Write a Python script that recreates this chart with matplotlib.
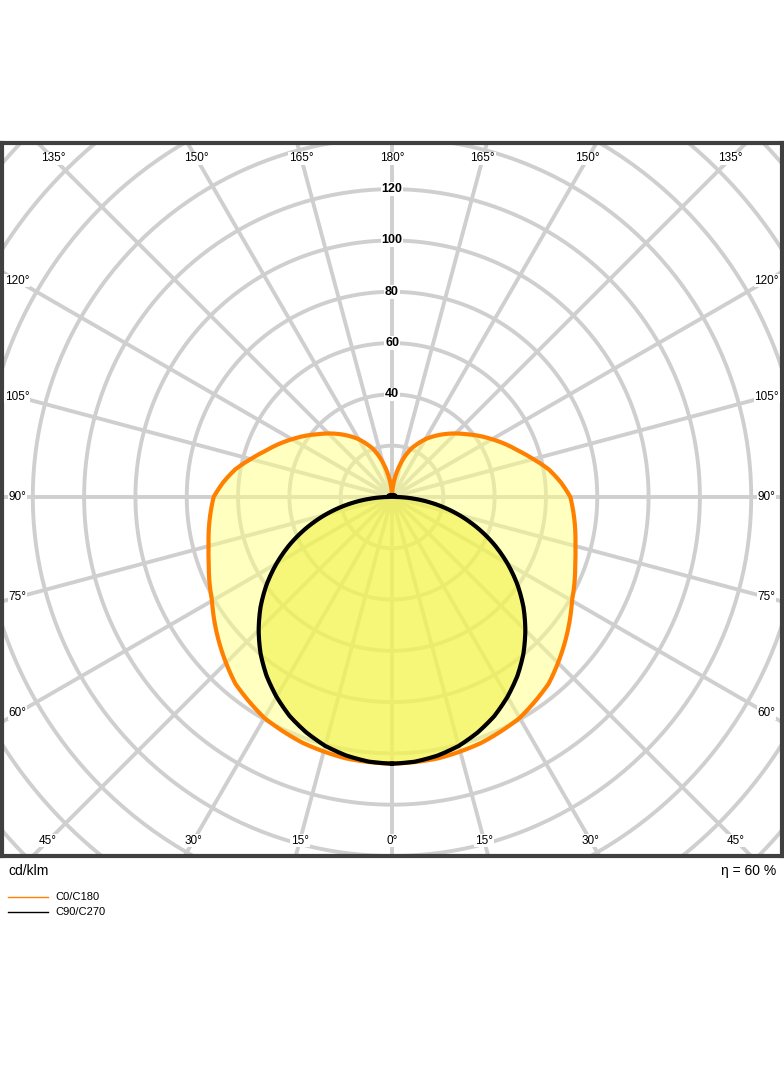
import numpy as np
import matplotlib.pyplot as plt

plt.rcParams['font.family'] = ['Liberation Sans', 'DejaVu Sans']

# luminous intensity, cd/klm, gamma angle from nadir (deg)
angles_c0 = [0, 10, 20, 30, 40, 50, 60, 70, 75, 80, 85, 90, 95, 100, 105, 110, 120, 125, 130, 135, 140, 145, 150, 155, 158, 162, 166, 170, 175, 180]
c0_c180 = [104, 103.5, 102, 99.5, 95, 88, 81, 76, 74, 72.5, 71, 69.5, 66, 62, 57, 52.5, 45, 41.5, 38, 35, 32, 29, 26, 22.5, 20.5, 17, 13, 9, 4, 0]
angles_c90 = [0, 5, 10, 15, 20, 25, 30, 35, 40, 45, 50, 55, 60, 65, 70, 75, 80, 85, 90, 100, 140, 180]
c90_c270 = [104, 103.6, 102.4, 100.5, 97.7, 94.3, 90, 85.2, 79.7, 73.5, 66.9, 59.7, 52, 44, 35.6, 27, 18.2, 9.3, 1, 1.5, 1, 0]
ring_values = [20, 40, 60, 80, 100, 120, 140, 160, 180, 200, 220]
ring_labels = [40, 60, 80, 100, 120]
angle_ticks = [0, 15, 30, 45, 60, 75, 90, 105, 120, 135, 150, 165, 180]

fig = plt.figure(figsize=(7.84, 10.66), dpi=100)
ax = fig.add_axes([2/784, (1066-856)/1066, 780/784, 713/1066])
xl, yb, yt = 152, -140, 138
ax.set_xlim(-xl, xl)
ax.set_ylim(yb, yt)
ax.set_xticks([]); ax.set_yticks([])
for s in ax.spines.values():
    s.set_linewidth(3); s.set_color('#404040')

grid = '#cfcfcf'
t = np.linspace(0, 2*np.pi, 400)
for r in ring_values:
    ax.plot(r*np.cos(t), r*np.sin(t), color=grid, lw=2.8, zorder=1)
for a in range(0, 360, 15):
    th = np.radians(a)
    ax.plot([0, 300*np.sin(th)], [0, -300*np.cos(th)], color=grid, lw=2.8, zorder=1)

def curve(angs, vals):
    g = np.arange(0, 180.5, 0.5)
    r = np.interp(g, angs, vals)
    th = np.radians(g)
    full_th = np.concatenate([th, -th[::-1]])
    full_r = np.concatenate([r, r[::-1]])
    return full_r*np.sin(full_th), -full_r*np.cos(full_th)

x0, y0 = curve(angles_c0, c0_c180)
x9, y9 = curve(angles_c90, c90_c270)
ax.fill(x0, y0, color='#ffff80', alpha=0.5, lw=0, zorder=2)
ax.fill(x9, y9, color='#f0f040', alpha=0.55, lw=0, zorder=3)
ax.plot(x0, y0, color='#ff8000', lw=3, zorder=4)
ax.plot(x9, y9, color='black', lw=3, zorder=5)

for v in ring_labels:
    ax.text(0, v, str(v), ha='center', va='center', fontsize=9, zorder=6,
            fontweight='bold', bbox=dict(fc='white', ec='none', pad=0.5))

# angle labels at box border
ins = 6.0
bx, byb, byt = xl - ins, yb + ins, yt - ins
for a in angle_ticks:
    th = np.radians(a)
    for sgn in ([1] if a in (0, 180) else [1, -1]):
        dx, dy = sgn*np.sin(th), -np.cos(th)
        ts = []
        if abs(dx) > 1e-9:
            ts.append(bx/abs(dx))
        if dy > 1e-9:
            ts.append(byt/dy)
        elif dy < -1e-9:
            ts.append(byb/dy)
        k = min(ts)
        ax.text(k*dx, k*dy, f'{a}°', ha='center', va='center', fontsize=8.5,
                zorder=6, bbox=dict(fc='white', ec='none', pad=0.5))

fig.text(8/784, 1-871/1066, 'cd/klm', fontsize=10, va='center')
fig.text(776/784, 1-871/1066, 'η = 60 %', fontsize=10, va='center', ha='right')
fig.lines.append(plt.Line2D([8/784, 48/784], [1-897/1066]*2, color='#ff8000', lw=1, transform=fig.transFigure))
fig.lines.append(plt.Line2D([8/784, 48/784], [1-912/1066]*2, color='black', lw=1, transform=fig.transFigure))
fig.text(55/784, 1-897/1066, 'C0/C180', fontsize=8, va='center')
fig.text(55/784, 1-912/1066, 'C90/C270', fontsize=8, va='center')

fig.savefig('out.png', dpi=100)
